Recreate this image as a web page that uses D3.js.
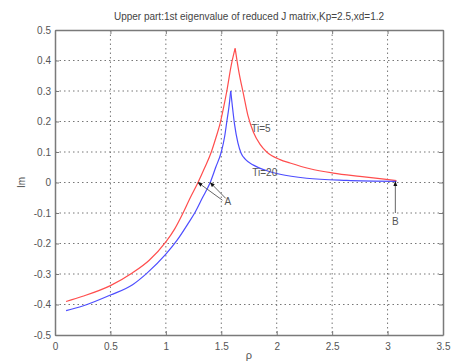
<!DOCTYPE html>
<html><head><meta charset="utf-8">
<script src="https://cdn.jsdelivr.net/npm/d3@7"></script>
<style>body{margin:0;background:#fff}svg{display:block}text{font-family:"Liberation Sans",Arial,sans-serif}</style>
</head><body><svg id="c" width="452" height="364"></svg>
<script>
const titleText = "Upper part:1st eigenvalue of reduced J matrix,Kp=2.5,xd=1.2";
const xTicks = [0,0.5,1,1.5,2,2.5,3,3.5];
const xTickLabels = ["0","0.5","1","1.5","2","2.5","3","3.5"];
const yTicks = [0.5,0.4,0.3,0.2,0.1,0,-0.1,-0.2,-0.3,-0.4,-0.5];
const yTickLabels = ["0.5","0.4","0.3","0.2","0.1","0","-0.1","-0.2","-0.3","-0.4","-0.5"];
// Ti=5 (red)
const redP = [0.1,0.25,0.5,0.7,0.85,1.0,1.08,1.155,1.22,1.29,1.35,1.41,1.45,1.49,1.52,1.55,1.59,1.625,1.66,1.70,1.74,1.79,1.85,1.91,2.03,2.12,2.3,2.51,2.75,2.99,3.08];
const redV = [-0.39,-0.373,-0.338,-0.296,-0.255,-0.195,-0.152,-0.1,-0.05,0,0.048,0.1,0.145,0.195,0.245,0.3,0.385,0.44,0.36,0.29,0.22,0.165,0.125,0.1,0.075,0.064,0.045,0.031,0.02,0.01,0.006];
// Ti=20 (blue)
const blueP = [0.1,0.25,0.5,0.7,0.83,1.0,1.1,1.2,1.26,1.33,1.40,1.45,1.50,1.53,1.55,1.57,1.585,1.60,1.62,1.65,1.68,1.72,1.79,1.9,2.03,2.27,2.63,3.08];
const blueV = [-0.42,-0.405,-0.369,-0.335,-0.297,-0.235,-0.19,-0.135,-0.1,-0.05,0,0.05,0.1,0.15,0.2,0.25,0.30,0.25,0.19,0.13,0.095,0.075,0.057,0.04,0.027,0.014,0.007,0.004];

const svg = d3.select("#c");
const L=55,R=443,T=30,B=335;
const x = d3.scaleLinear().domain([0,3.5]).range([L,R]);
const y = d3.scaleLinear().domain([-0.5,0.5]).range([B,T]);
const gridCol="#777", frameCol="#7a7a7a";

// grid
const g = svg.append("g");
xTicks.slice(1,-1).forEach(t=>g.append("line").attr("x1",x(t)).attr("x2",x(t)).attr("y1",T).attr("y2",B).attr("stroke",gridCol).attr("stroke-width",1).attr("stroke-dasharray","1.5,3"));
yTicks.slice(1,-1).forEach(t=>g.append("line").attr("y1",y(t)).attr("y2",y(t)).attr("x1",L).attr("x2",R).attr("stroke",gridCol).attr("stroke-width",1).attr("stroke-dasharray","1.5,3"));

// axes
const xa = svg.append("g").attr("transform",`translate(0,${B})`).call(d3.axisBottom(x).tickValues(xTicks).tickFormat((d,i)=>xTickLabels[i]).tickSizeInner(-4).tickSizeOuter(0).tickPadding(8));
const xa2 = svg.append("g").attr("transform",`translate(0,${T})`).call(d3.axisTop(x).tickValues(xTicks).tickFormat("").tickSizeInner(-4).tickSizeOuter(0));
const ya = svg.append("g").attr("transform",`translate(${L},0)`).call(d3.axisLeft(y).tickValues(yTicks).tickFormat((d,i)=>yTickLabels[i]).tickSizeInner(-4).tickSizeOuter(0).tickPadding(4));
const ya2 = svg.append("g").attr("transform",`translate(${R},0)`).call(d3.axisRight(y).tickValues(yTicks).tickFormat("").tickSizeInner(-4).tickSizeOuter(0));
[xa,xa2,ya,ya2].forEach(a=>{a.selectAll("path").attr("stroke",frameCol).attr("stroke-width",1.5);a.selectAll("line").attr("stroke",frameCol);a.selectAll("text").attr("fill","#555").attr("font-size","10px");});

// lines: draw rising and falling branches separately so the peak stays sharp
const line = d3.line().x(d=>x(d[0])).y(d=>y(d[1])).curve(d3.curveMonotoneX);
function drawSeries(P,V,col){
  const pts = P.map((p,i)=>[p,V[i]]);
  const k = d3.maxIndex(V);
  [pts.slice(0,k+1), pts.slice(k)].forEach(seg=>
    svg.append("path").datum(seg).attr("d",line).attr("fill","none").attr("stroke",col).attr("stroke-width",1.2).attr("stroke-linejoin","round"));
}
drawSeries(redP,redV,"#ff4d4d");
drawSeries(blueP,blueV,"#4d4dff");

// annotations
const defs = svg.append("defs");
defs.append("marker").attr("id","ah").attr("viewBox","0 0 10 10").attr("refX",9).attr("refY",5).attr("markerWidth",5).attr("markerHeight",5).attr("orient","auto")
 .append("path").attr("d","M0,1 L10,5 L0,9 Z").attr("fill","#111");
const ann = svg.append("g");
ann.append("line").attr("x1",x(1.51)).attr("y1",y(-0.058)).attr("x2",x(1.29)).attr("y2",y(0)).attr("stroke","#666").attr("marker-end","url(#ah)");
ann.append("line").attr("x1",x(1.54)).attr("y1",y(-0.052)).attr("x2",x(1.40)).attr("y2",y(0)).attr("stroke","#666").attr("marker-end","url(#ah)");
ann.append("line").attr("x1",x(3.07)).attr("y1",y(-0.1)).attr("x2",x(3.07)).attr("y2",y(0.003)).attr("stroke","#666").attr("marker-end","url(#ah)");
ann.append("text").attr("x",x(1.53)).attr("y",y(-0.06)+4).text("A").attr("font-size","10px").attr("fill","#555");
ann.append("text").attr("x",x(3.07)).attr("y",y(-0.125)+4).attr("text-anchor","middle").text("B").attr("font-size","10px").attr("fill","#555");
ann.append("text").attr("x",x(1.77)).attr("y",y(0.18)+4).text("Ti=5").attr("font-size","10px").attr("fill","#555");
ann.append("text").attr("x",x(1.78)).attr("y",y(0.036)+4).text("Ti=20").attr("font-size","10px").attr("fill","#555");

// titles
svg.append("text").attr("x",(L+R)/2).attr("y",20).attr("text-anchor","middle").attr("font-size","10px").attr("fill","#444").text(titleText);
svg.append("text").attr("x",(L+R)/2).attr("y",359).attr("text-anchor","middle").attr("font-size","11px").attr("fill","#555").text("ρ");
svg.append("text").attr("transform",`translate(25,${y(0)}) rotate(-90)`).attr("text-anchor","middle").attr("font-size","10px").attr("fill","#555").text("Im");
</script></body></html>
